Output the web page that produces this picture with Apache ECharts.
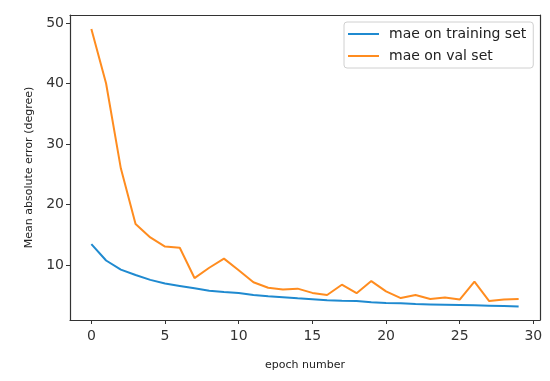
<!DOCTYPE html>
<html><head><meta charset="utf-8">
<script src="https://cdn.jsdelivr.net/npm/echarts@6/dist/echarts.min.js"></script>
<style>html,body{margin:0;padding:0;background:#fff}#c{width:550px;height:381px}</style>
</head><body><div id="c"></div>
<script>
const epochs = Array.from({length: 30}, (_, i) => i);
const trainMae = [13.5, 10.8, 9.3, 8.4, 7.6, 7.0, 6.6, 6.2, 5.8, 5.6, 5.45, 5.1, 4.9, 4.75, 4.55, 4.4, 4.25, 4.15, 4.1, 3.9, 3.8, 3.75, 3.6, 3.55, 3.5, 3.45, 3.4, 3.35, 3.3, 3.2];
const valMae = [49.0, 40.0, 26.0, 16.8, 14.6, 13.1, 12.9, 7.9, 9.6, 11.1, 9.2, 7.2, 6.3, 6.0, 6.15, 5.45, 5.1, 6.8, 5.4, 7.4, 5.7, 4.6, 5.1, 4.45, 4.7, 4.35, 7.3, 4.1, 4.35, 4.45];
const xTicks = [0, 5, 10, 15, 20, 25, 30];
const yTicks = [10, 20, 30, 40, 50];
const seriesNames = ['mae on training set', 'mae on val set'];

const chart = echarts.init(document.getElementById('c'), null, {renderer: 'canvas'});
const font = 'DejaVu Sans';
const frameAxis = {
  show: true, axisLine: {show: true, onZero: false, lineStyle: {color: '#333', width: 1.2}},
  axisTick: {show: false}, axisLabel: {show: false}, splitLine: {show: false}
};
chart.setOption({
  animation: false,
  backgroundColor: '#fff',
  grid: {left: 70, top: 15, right: 10, bottom: 61},
  legend: {
    orient: 'vertical', left: 344, top: 22,
    padding: [4, 7, 4, 4], itemGap: 6,
    itemWidth: 31, itemHeight: 2, icon: 'rect',
    borderColor: '#d0d0d0', borderWidth: 1, borderRadius: 3, backgroundColor: '#fff',
    textStyle: {fontFamily: font, fontSize: 14, lineHeight: 16, color: '#222', padding: [0, 0, 0, 5]},
    data: seriesNames
  },
  xAxis: [{
    type: 'value', min: -1.45, max: 30.45,
    name: 'epoch number', nameLocation: 'middle', nameGap: 40,
    nameTextStyle: {fontFamily: font, fontSize: 11, color: '#222'},
    splitLine: {show: false},
    axisLine: {show: true, onZero: false, lineStyle: {color: '#333', width: 1.2}},
    axisTick: {show: true, length: 4, lineStyle: {color: '#333'}, customValues: xTicks},
    axisLabel: {fontFamily: font, fontSize: 14, color: '#333', margin: 9, customValues: xTicks}
  }, Object.assign({type: 'value', position: 'top', min: -1.45, max: 30.45}, frameAxis)],
  yAxis: [{
    type: 'value', min: 0.98, max: 51.3,
    name: 'Mean absolute error (degree)', nameLocation: 'middle', nameGap: 35, nameRotate: 90,
    nameTextStyle: {fontFamily: font, fontSize: 11, color: '#222'},
    splitLine: {show: false},
    axisLine: {show: true, onZero: false, lineStyle: {color: '#333', width: 1.2}},
    axisTick: {show: true, length: 4, lineStyle: {color: '#333'}, customValues: yTicks},
    axisLabel: {fontFamily: font, fontSize: 14, color: '#333', margin: 6, customValues: yTicks}
  }, Object.assign({type: 'value', position: 'right', min: 0.98, max: 51.3}, frameAxis)],
  series: [
    {name: seriesNames[0], type: 'line', showSymbol: false, color: '#1f8ad0',
     lineStyle: {width: 2, color: '#1f8ad0'}, data: epochs.map((e, i) => [e, trainMae[i]])},
    {name: seriesNames[1], type: 'line', showSymbol: false, color: '#ff8c1f',
     lineStyle: {width: 2, color: '#ff8c1f'}, data: epochs.map((e, i) => [e, valMae[i]])}
  ]
});
</script></body></html>
